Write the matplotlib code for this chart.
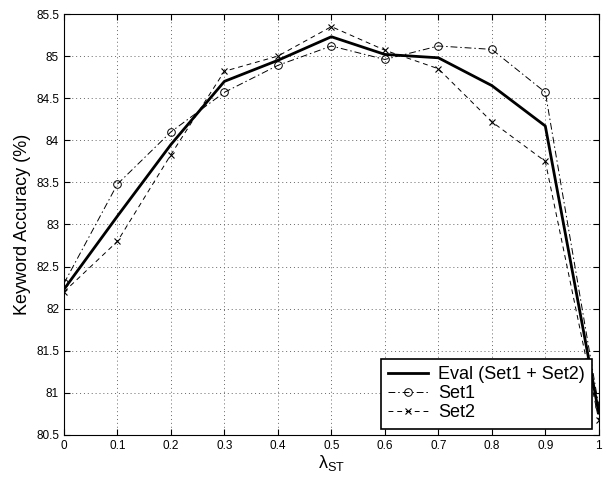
import numpy as np
import matplotlib
matplotlib.use("Agg")
import matplotlib.pyplot as plt

plt.rcParams['font.family'] = ['Liberation Sans', 'DejaVu Sans']
plt.rcParams['mathtext.fontset'] = 'custom'
plt.rcParams['mathtext.rm'] = 'Liberation Sans'
plt.rcParams['mathtext.it'] = 'Liberation Sans'

# data
lam = [0, 0.1, 0.2, 0.3, 0.4, 0.5, 0.6, 0.7, 0.8, 0.9, 1.0]
eval_acc = [82.23, 83.10, 83.95, 84.70, 84.95, 85.23, 85.02, 84.98, 84.65, 84.17, 80.76]
set1_acc = [82.30, 83.48, 84.10, 84.57, 84.89, 85.12, 84.96, 85.12, 85.08, 84.57, 80.84]
set2_acc = [82.20, 82.80, 83.83, 84.82, 85.00, 85.35, 85.07, 84.85, 84.22, 83.75, 80.68]

fig = plt.figure(figsize=(6.11, 4.78), dpi=100)
ax = fig.add_axes([0.1047, 0.09, 0.8753, 0.8807])

ax.plot(lam, eval_acc, 'k-', lw=2, label='Eval (Set1 + Set2)')
ax.plot(lam, set1_acc, color='k', linestyle=(0, (7, 3, 1.5, 3)), lw=0.7,
        marker='o', ms=5.5, mfc='none', mew=0.7, label='Set1')
ax.plot(lam, set2_acc, color='k', linestyle=(0, (5, 4)), lw=0.7,
        marker='x', ms=4, mew=0.8, label='Set2')

ax.set_xlim(0, 1)
ax.set_ylim(80.5, 85.5)
ax.set_xticks(np.arange(0, 1.01, 0.1))
ax.set_xticklabels(['0', '0.1', '0.2', '0.3', '0.4', '0.5', '0.6', '0.7', '0.8', '0.9', '1'])
ax.set_yticks(np.arange(80.5, 85.51, 0.5))
ax.set_yticklabels(['80.5', '81', '81.5', '82', '82.5', '83', '83.5', '84', '84.5', '85', '85.5'])
ax.tick_params(labelsize=8.5, direction='in', length=4, top=True, right=True)
ax.grid(True, linestyle=(0, (1, 3)), color='#666666', lw=0.7)

ax.set_xlabel(r'$\lambda_{\mathrm{ST}}$', fontsize=13, labelpad=1)
ax.set_ylabel('Keyword Accuracy (%)', fontsize=13)

leg = ax.legend(loc='lower right', fontsize=13, fancybox=False, edgecolor='black',
                framealpha=1, borderpad=0.4, labelspacing=0.12, handlelength=2.2,
                handletextpad=0.6, borderaxespad=0.35)
leg.get_frame().set_linewidth(1.2)

fig.savefig('out.png', dpi=100)
